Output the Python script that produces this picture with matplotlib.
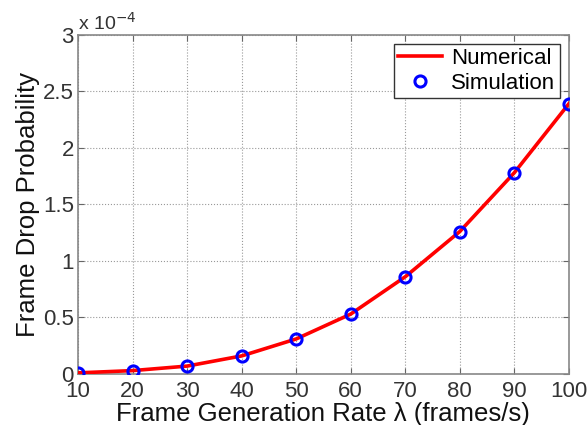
import matplotlib.pyplot as plt
from matplotlib.ticker import FormatStrFormatter

plt.rcParams['font.family'] = ['Liberation Sans', 'DejaVu Sans']

# frame generation rate (frames/s)
taxa = [10, 20, 30, 40, 50, 60, 70, 80, 90, 100]
# frame drop probability, in units of 1e-4
prob_numerica = [0.01, 0.03, 0.07, 0.16, 0.31, 0.53, 0.86, 1.26, 1.78, 2.39]
prob_simulacao = [0.01, 0.03, 0.07, 0.16, 0.31, 0.53, 0.86, 1.26, 1.78, 2.39]

fig = plt.figure(figsize=(5.87, 4.25), dpi=100)
ax = fig.add_axes([0.133, 0.12, 0.836, 0.798])

ax.plot(taxa, prob_numerica, color='red', linewidth=2.6, label='Numerical', zorder=3)
ax.plot(taxa, prob_simulacao, linestyle='none', marker='o', markersize=8,
        markerfacecolor='none', markeredgecolor='blue', markeredgewidth=2.2,
        label='Simulation', zorder=4)

ax.set_xlim(10, 100)
ax.set_ylim(0, 3)
ax.set_xticks(range(10, 101, 10))
ax.set_yticks([0, 0.5, 1, 1.5, 2, 2.5, 3])
ax.yaxis.set_major_formatter(FormatStrFormatter('%g'))

ax.grid(True, linestyle=':', color='#999999', linewidth=0.8)
ax.tick_params(direction='in', top=True, right=True, length=4, labelsize=16,
               colors='#666666', labelcolor='#333333', pad=3)
ax.tick_params(axis='x', pad=5)
for s in ax.spines.values():
    s.set_color('#888888')
    s.set_linewidth(1.2)

ax.set_xlabel('Frame Generation Rate λ (frames/s)', fontsize=18.5, color='#111111', labelpad=0)
ax.set_ylabel('Frame Drop Probability', fontsize=18.5, color='#111111', labelpad=2)
ax.text(0.0, 1.003, r'x 10$^{-4}$', transform=ax.transAxes, fontsize=14,
        color='#333333', ha='left', va='bottom')

leg = ax.legend(loc='upper right', fontsize=16, fancybox=False, edgecolor='#333333',
                handlelength=2.0, borderpad=0.2, labelspacing=0.15, handletextpad=0.4,
                borderaxespad=0.4, framealpha=1)
leg.get_frame().set_linewidth(1.0)

fig.savefig('out.png', dpi=100)
